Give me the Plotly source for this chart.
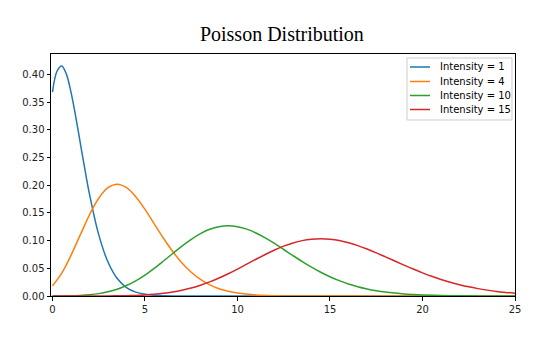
import plotly.graph_objects as go

# Poisson probability curves (continuous in x) for four intensities
x_l1 = [0, 0.25, 0.5, 0.75, 1, 1.25, 1.5, 1.75, 2, 2.5, 3, 3.5, 4, 4.5, 5, 5.5, 6, 7, 8, 10, 15, 20, 25]
y_l1 = [0.3679, 0.4059, 0.4151, 0.4003, 0.3679, 0.3247, 0.2767, 0.2287, 0.1839, 0.1107, 0.0613,
        0.0315, 0.0153, 0.0070, 0.0031, 0.0013, 0.0005, 0.0001, 0, 0, 0, 0, 0]

x_l4 = [0, 0.5, 1, 1.5, 2, 2.5, 3, 3.5, 4, 4.5, 5, 5.5, 6, 6.5, 7, 7.5, 8, 8.5, 9, 9.5, 10,
        11, 12, 13, 14, 15, 20, 25]
y_l4 = [0.0183, 0.0413, 0.0733, 0.1102, 0.1465, 0.1764, 0.1954, 0.2016, 0.1954, 0.1792, 0.1563,
        0.1303, 0.1042, 0.0802, 0.0595, 0.0428, 0.0298, 0.0201, 0.0132, 0.0085, 0.0053,
        0.0019, 0.0006, 0.0002, 0.0001, 0, 0, 0]

x_l10 = [0, 0.5, 1, 1.5, 2, 2.5, 3, 3.5, 4, 4.5, 5, 5.5, 6, 6.5, 7, 7.5, 8, 8.5, 9, 9.5, 10,
         10.5, 11, 11.5, 12, 12.5, 13, 13.5, 14, 14.5, 15, 15.5, 16, 16.5, 17, 17.5, 18, 18.5,
         19, 19.5, 20, 21, 22, 23, 24, 25]
y_l10 = [0.0000, 0.0002, 0.0005, 0.0011, 0.0023, 0.0043, 0.0076, 0.0123, 0.0189, 0.0274, 0.0378,
         0.0499, 0.0631, 0.0767, 0.0901, 0.1023, 0.1126, 0.1203, 0.1251, 0.1267, 0.1251,
         0.1206, 0.1137, 0.1049, 0.0948, 0.0839, 0.0729, 0.0622, 0.0521, 0.0429, 0.0347,
         0.0277, 0.0217, 0.0168, 0.0128, 0.0096, 0.0071, 0.0052, 0.0037, 0.0027, 0.0019,
         0.0009, 0.0004, 0.0002, 0.0001, 0.0000]

x_l15 = [0, 1, 2, 3, 3.5, 4, 4.5, 5, 5.5, 6, 6.5, 7, 7.5, 8, 8.5, 9, 9.5, 10, 10.5, 11, 11.5,
         12, 12.5, 13, 13.5, 14, 14.5, 15, 15.5, 16, 16.5, 17, 17.5, 18, 18.5, 19, 19.5, 20,
         20.5, 21, 21.5, 22, 22.5, 23, 23.5, 24, 24.5, 25]
y_l15 = [0.0000, 0.0000, 0.0000, 0.0002, 0.0003, 0.0006, 0.0011, 0.0019, 0.0031, 0.0048, 0.0072,
         0.0104, 0.0144, 0.0194, 0.0255, 0.0324, 0.0402, 0.0486, 0.0574, 0.0663, 0.0749,
         0.0829, 0.0899, 0.0956, 0.0999, 0.1024, 0.1033, 0.1024, 0.1000, 0.0960, 0.0909,
         0.0847, 0.0779, 0.0706, 0.0632, 0.0558, 0.0486, 0.0418, 0.0355, 0.0299, 0.0248,
         0.0204, 0.0165, 0.0133, 0.0106, 0.0083, 0.0065, 0.0050]

names = ["Intensity = 1", "Intensity = 4", "Intensity = 10", "Intensity = 15"]
colors = ["#1f77b4", "#ff7f0e", "#2ca02c", "#d62728"]
xs_all = [x_l1, x_l4, x_l10, x_l15]
ys_all = [y_l1, y_l4, y_l10, y_l15]

fig = go.Figure()
for name, xs, ys, color in zip(names, xs_all, ys_all, colors):
    fig.add_trace(go.Scatter(
        x=xs, y=ys, name=name, mode="lines", showlegend=False,
        line=dict(color=color, width=1.5, shape="spline", smoothing=1),
    ))

axis_common = dict(
    showgrid=False, zeroline=False, showline=True, mirror=True,
    linecolor="#000000", linewidth=1, ticks="outside", ticklen=3.5,
    tickcolor="#000000", tickfont=dict(family="DejaVu Sans", size=10, color="#222222"),
)

# Legend box in the upper-right corner of the axes, drawn in paper coordinates
shapes = [dict(type="rect", xref="paper", yref="paper",
               x0=0.7672, x1=0.9935, y0=0.7273, y1=0.9835,
               line=dict(color="#cccccc", width=1), fillcolor="rgba(255,255,255,0.8)",
               layer="above")]
annotations = []
row_y = [0.9463, 0.8864, 0.8285, 0.7707]
for name, color, ry in zip(names, colors, row_y):
    shapes.append(dict(type="line", xref="paper", yref="paper",
                       x0=0.7737, x1=0.8168, y0=ry, y1=ry,
                       line=dict(color=color, width=1.5), layer="above"))
    annotations.append(dict(text=name, xref="paper", yref="paper", x=0.833, y=ry,
                            xanchor="left", yanchor="middle", showarrow=False,
                            font=dict(family="DejaVu Sans", size=10, color="#000000")))

fig.update_layout(
    width=540, height=337,
    margin=dict(l=51, r=25, t=54, b=41),
    paper_bgcolor="white", plot_bgcolor="white",
    title=dict(text="Poisson Distribution", x=0.522, xanchor="center",
               y=0.9, yanchor="middle", yref="container",
               font=dict(family="Liberation Serif", size=20, color="#000000")),
    xaxis=dict(range=[-0.08, 25], tickvals=[0, 5, 10, 15, 20, 25], **axis_common),
    yaxis=dict(range=[0, 0.4366], tickvals=[0, 0.05, 0.1, 0.15, 0.2, 0.25, 0.3, 0.35, 0.4],
               tickformat=".2f", **axis_common),
    shapes=shapes,
    annotations=annotations,
    showlegend=False,
)

fig.write_html("out.html")
